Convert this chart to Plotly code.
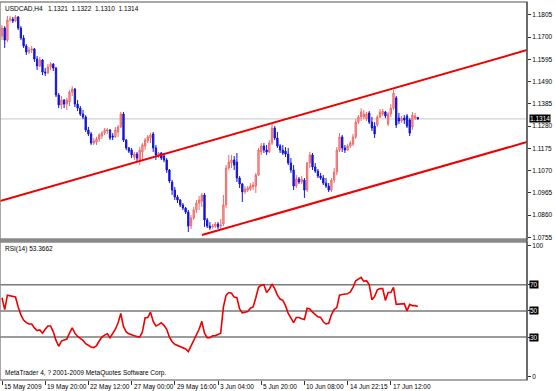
import plotly.graph_objects as go

# ---------------- data ----------------
bar_index = list(range(155))

opens = [1.1705, 1.1743, 1.1686, 1.1781, 1.1785, 1.1776, 1.1795, 1.1743, 1.1696, 1.1658,
         1.1630, 1.1639, 1.1644, 1.1597, 1.1564, 1.1592, 1.1535, 1.1531, 1.1559, 1.1573,
         1.1554, 1.1427, 1.1380, 1.1403, 1.1384, 1.1394, 1.1441, 1.1455, 1.1384, 1.1365,
         1.1337, 1.1323, 1.1262, 1.1243, 1.1200, 1.1205, 1.1219, 1.1233, 1.1247, 1.1257,
         1.1262, 1.1233, 1.1229, 1.1252, 1.1276, 1.1337, 1.1214, 1.1177, 1.1167, 1.1134,
         1.1148, 1.1120, 1.1158, 1.1186, 1.1210, 1.1224, 1.1243, 1.1177, 1.1139, 1.1153,
         1.1139, 1.1120, 1.1073, 1.1016, 1.0978, 1.0945, 1.0931, 1.0908, 1.0893, 1.0874,
         1.0808, 1.0846, 1.0884, 1.0917, 1.0926, 1.0955, 1.0837, 1.0808, 1.0804, 1.0808,
         1.0818, 1.0808, 1.0818, 1.0908, 1.1082, 1.1106, 1.1120, 1.1110, 1.1035, 1.1007,
         1.0969, 1.0978, 1.0983, 1.0993, 1.0997, 1.1049, 1.1158, 1.1186, 1.1167, 1.1158,
         1.1200, 1.1271, 1.1224, 1.1186, 1.1167, 1.1162, 1.1148, 1.1106, 1.1073, 1.0997,
         1.1030, 1.1016, 1.1025, 1.0978, 1.1106, 1.1144, 1.1087, 1.1068, 1.1044, 1.1035,
         1.1011, 1.0997, 1.0978, 1.1025, 1.1063, 1.1167, 1.1229, 1.1177, 1.1167, 1.1186,
         1.1195, 1.1229, 1.1299, 1.1323, 1.1323, 1.1313, 1.1342, 1.1299, 1.1280, 1.1285,
         1.1323, 1.1337, 1.1347, 1.1290, 1.1337, 1.1365, 1.1413, 1.1318, 1.1304, 1.1318,
         1.1328, 1.1309, 1.1276, 1.1318, 1.1321]

highs = [1.1757, 1.1752, 1.1800, 1.1800, 1.1795, 1.1804, 1.1800, 1.1752, 1.1710, 1.1667,
         1.1653, 1.1658, 1.1649, 1.1611, 1.1606, 1.1597, 1.1554, 1.1573, 1.1583, 1.1578,
         1.1559, 1.1436, 1.1422, 1.1408, 1.1413, 1.1450, 1.1469, 1.1460, 1.1403, 1.1375,
         1.1356, 1.1332, 1.1276, 1.1252, 1.1224, 1.1229, 1.1247, 1.1257, 1.1271, 1.1271,
         1.1266, 1.1247, 1.1276, 1.1285, 1.1347, 1.1347, 1.1219, 1.1181, 1.1177, 1.1158,
         1.1158, 1.1181, 1.1200, 1.1224, 1.1238, 1.1247, 1.1252, 1.1191, 1.1158, 1.1158,
         1.1153, 1.1129, 1.1077, 1.1026, 1.0993, 1.0955, 1.0936, 1.0917, 1.0898, 1.0884,
         1.0860, 1.0898, 1.0931, 1.0950, 1.0964, 1.0964, 1.0846, 1.0827, 1.0818, 1.0827,
         1.0827, 1.0841, 1.0955, 1.1096, 1.1144, 1.1144, 1.1139, 1.1153, 1.1044, 1.1011,
         1.0997, 1.0997, 1.1011, 1.1016, 1.1059, 1.1177, 1.1200, 1.1200, 1.1191, 1.1214,
         1.1295, 1.1280, 1.1252, 1.1195, 1.1191, 1.1181, 1.1177, 1.1129, 1.1096, 1.1049,
         1.1040, 1.1044, 1.1035, 1.1111, 1.1158, 1.1153, 1.1106, 1.1077, 1.1059, 1.1049,
         1.1035, 1.1011, 1.1035, 1.1082, 1.1181, 1.1247, 1.1238, 1.1191, 1.1195, 1.1210,
         1.1243, 1.1313, 1.1332, 1.1365, 1.1356, 1.1347, 1.1351, 1.1323, 1.1299, 1.1332,
         1.1361, 1.1361, 1.1351, 1.1347, 1.1384, 1.1450, 1.1422, 1.1342, 1.1328, 1.1332,
         1.1337, 1.1318, 1.1347, 1.1342, 1.1322]

lows = [1.1686, 1.1649, 1.1677, 1.1771, 1.1767, 1.1771, 1.1734, 1.1686, 1.1649, 1.1616,
        1.1620, 1.1625, 1.1583, 1.1545, 1.1559, 1.1521, 1.1516, 1.1526, 1.1545, 1.1540,
        1.1417, 1.1365, 1.1361, 1.1365, 1.1356, 1.1375, 1.1422, 1.1370, 1.1351, 1.1328,
        1.1313, 1.1252, 1.1233, 1.1191, 1.1191, 1.1191, 1.1205, 1.1219, 1.1238, 1.1243,
        1.1214, 1.1214, 1.1224, 1.1229, 1.1271, 1.1205, 1.1167, 1.1153, 1.1129, 1.1120,
        1.1110, 1.1096, 1.1120, 1.1167, 1.1200, 1.1200, 1.1158, 1.1120, 1.1129, 1.1120,
        1.1110, 1.1059, 1.1011, 1.0955, 1.0931, 1.0917, 1.0898, 1.0884, 1.0865, 1.0780,
        1.0794, 1.0837, 1.0870, 1.0884, 1.0898, 1.0804, 1.0799, 1.0790, 1.0794, 1.0799,
        1.0794, 1.0794, 1.0808, 1.0893, 1.1073, 1.1082, 1.1073, 1.1016, 1.0988, 1.0922,
        1.0959, 1.0969, 1.0974, 1.0978, 1.0964, 1.1044, 1.1144, 1.1153, 1.1144, 1.1153,
        1.1191, 1.1214, 1.1177, 1.1153, 1.1144, 1.1134, 1.1096, 1.1059, 1.0978, 1.0988,
        1.1007, 1.1007, 1.0941, 1.0969, 1.1082, 1.1073, 1.1059, 1.1035, 1.1026, 1.1002,
        1.0988, 1.0969, 1.0969, 1.1011, 1.1049, 1.1158, 1.1158, 1.1153, 1.1162, 1.1177,
        1.1186, 1.1219, 1.1290, 1.1304, 1.1313, 1.1304, 1.1290, 1.1257, 1.1224, 1.1276,
        1.1318, 1.1328, 1.1318, 1.1280, 1.1323, 1.1356, 1.1271, 1.1290, 1.1295, 1.1290,
        1.1271, 1.1233, 1.1262, 1.1309, 1.1310]

closes = [1.1743, 1.1686, 1.1781, 1.1785, 1.1776, 1.1795, 1.1743, 1.1696, 1.1658, 1.1630,
          1.1639, 1.1644, 1.1597, 1.1564, 1.1592, 1.1535, 1.1531, 1.1559, 1.1573, 1.1554,
          1.1427, 1.1380, 1.1403, 1.1384, 1.1403, 1.1441, 1.1455, 1.1384, 1.1365, 1.1337,
          1.1323, 1.1262, 1.1243, 1.1200, 1.1210, 1.1219, 1.1238, 1.1247, 1.1262, 1.1262,
          1.1224, 1.1229, 1.1262, 1.1276, 1.1337, 1.1214, 1.1177, 1.1162, 1.1144, 1.1148,
          1.1129, 1.1167, 1.1191, 1.1214, 1.1229, 1.1238, 1.1177, 1.1144, 1.1153, 1.1129,
          1.1120, 1.1073, 1.1021, 1.0978, 1.0945, 1.0931, 1.0908, 1.0893, 1.0874, 1.0808,
          1.0846, 1.0884, 1.0917, 1.0931, 1.0955, 1.0837, 1.0808, 1.0799, 1.0808, 1.0818,
          1.0804, 1.0813, 1.0908, 1.1082, 1.1110, 1.1120, 1.1096, 1.1035, 1.1007, 1.0969,
          1.0983, 1.0988, 1.0997, 1.1002, 1.1049, 1.1167, 1.1186, 1.1167, 1.1158, 1.1200,
          1.1271, 1.1224, 1.1186, 1.1167, 1.1153, 1.1148, 1.1106, 1.1073, 1.0997, 1.1030,
          1.1016, 1.1030, 1.0978, 1.1106, 1.1144, 1.1087, 1.1068, 1.1044, 1.1035, 1.1011,
          1.0997, 1.0978, 1.1025, 1.1063, 1.1167, 1.1229, 1.1177, 1.1167, 1.1186, 1.1200,
          1.1229, 1.1299, 1.1323, 1.1347, 1.1337, 1.1337, 1.1299, 1.1271, 1.1243, 1.1323,
          1.1347, 1.1351, 1.1328, 1.1337, 1.1365, 1.1436, 1.1285, 1.1304, 1.1318, 1.1309,
          1.1280, 1.1247, 1.1332, 1.1328, 1.1314]

rsi_values = [60, 51, 62, 61.5, 61, 60.6, 53, 47, 43, 41,
              40, 40, 37, 35, 35.5, 33, 36, 38.5, 38.5, 34,
              27.5, 23, 27, 28, 28.5, 33, 37, 33, 30.5, 29,
              27.5, 25, 23.5, 22.5, 22, 23.5, 27, 30, 31.5, 32.5,
              29.5, 32.5, 36, 41, 48, 38, 34, 32.5, 31.5, 31,
              30.5, 30, 34, 44.7, 45, 49, 42, 38.5, 39.5, 41,
              39, 36, 30, 26.5, 24.5, 23.5, 23, 22, 21, 19,
              23, 27, 31, 36, 42, 33, 29.5, 29.5, 31, 31,
              32, 33, 53, 62, 64, 63.5, 60.5, 60, 51.5, 48.5,
              49, 49.5, 52, 53, 60, 68, 69.5, 70, 64, 66.5,
              70.5, 67, 62, 59, 58, 54, 48, 44, 41, 45,
              45, 44, 43.5, 52, 51.5, 49, 47, 45.5, 45, 41.7,
              40, 40.5, 47, 51, 52.5, 62, 62.5, 63, 63, 64.4,
              68, 73, 74, 75.5, 72.5, 73, 70, 58.5, 61, 66,
              67, 67, 58, 64, 64, 68, 55, 55, 55, 55.5,
              50, 55, 54, 54, 53.3662]

date_labels = ["15 May 2009", "19 May 20:00", "22 May 12:00", "27 May 00:00", "29 May 16:00",
               "3 Jun 04:00", "5 Jun 20:00", "10 Jun 08:00", "14 Jun 22:15", "17 Jun 12:00"]
date_label_bars = [0, 16, 32, 48, 64, 80, 96, 112, 128, 144]

price_ticks = [1.1805, 1.1700, 1.1595, 1.1490, 1.1385, 1.1280, 1.1175, 1.1070, 1.0965, 1.0860, 1.0755]
rsi_levels = [70, 50, 30]

upper_channel_bars = [-0.74, 194.44]
upper_channel_prices = [1.0926, 1.1639]
lower_channel_bars = [74.07, 194.44]
lower_channel_prices = [1.0766, 1.1205]

last_price = 1.1314
symbol = "USDCAD,H4"
last_ohlc = ["1.1321", "1.1322", "1.1310", "1.1314"]

# ---------------- figure ----------------
FONT = "Liberation Sans, Arial, sans-serif"
FS = 6.5
XR = [-0.741, 194.44]
MAIN_DOM = [0.373, 1.0]
RSI_DOM = [0.0, 0.365]

fig = go.Figure()

fig.add_trace(go.Candlestick(
    x=bar_index, open=opens, high=highs, low=lows, close=closes,
    increasing=dict(line=dict(color="#f06a6a", width=1), fillcolor="#f4a6a6"),
    decreasing=dict(line=dict(color="#1414d8", width=1), fillcolor="#1414d8"),
    whiskerwidth=0, xaxis="x", yaxis="y", showlegend=False, hoverinfo="skip"))

fig.add_trace(go.Scatter(x=upper_channel_bars, y=upper_channel_prices, mode="lines",
                         line=dict(color="#ee0000", width=2), xaxis="x", yaxis="y",
                         showlegend=False, hoverinfo="skip"))
fig.add_trace(go.Scatter(x=lower_channel_bars, y=lower_channel_prices, mode="lines",
                         line=dict(color="#ee0000", width=2), xaxis="x", yaxis="y",
                         showlegend=False, hoverinfo="skip"))

fig.add_trace(go.Scatter(x=bar_index, y=rsi_values, mode="lines",
                         line=dict(color="#ee0000", width=1.6), xaxis="x2", yaxis="y2",
                         showlegend=False, hoverinfo="skip"))

shapes = []
# current price line
shapes.append(dict(type="line", xref="paper", x0=0, x1=1, yref="y", y0=last_price, y1=last_price,
                   line=dict(color="#c4c4c4", width=1), layer="below"))
# RSI levels
for lv in rsi_levels:
    shapes.append(dict(type="line", xref="paper", x0=0, x1=1, yref="y2", y0=lv, y1=lv,
                       line=dict(color="#7a7a7a", width=1.5), layer="below"))
# frames
shapes.append(dict(type="rect", xref="paper", yref="paper", x0=0, x1=1, y0=MAIN_DOM[0], y1=1,
                   line=dict(color="#8a8a8a", width=1.5)))
shapes.append(dict(type="rect", xref="paper", yref="paper", x0=0, x1=1, y0=0, y1=RSI_DOM[1],
                   line=dict(color="#8a8a8a", width=1.5)))
shapes.append(dict(type="rect", xref="paper", yref="paper", x0=0, x1=1, y0=RSI_DOM[1], y1=MAIN_DOM[0],
                   line=dict(width=0), fillcolor="#8a8a8a"))
# right axis line
shapes.append(dict(type="line", xref="paper", yref="paper", x0=1, x1=1, y0=0, y1=1,
                   line=dict(color="#303030", width=1)))

annotations = []
annotations.append(dict(xref="paper", yref="paper", x=0, y=1, xanchor="left", yanchor="top",
                        xshift=3, yshift=-1, showarrow=False,
                        text=symbol + "\u00a0\u00a0\u00a0" + "\u00a0\u00a0".join(last_ohlc),
                        font=dict(family=FONT, size=FS, color="black")))
annotations.append(dict(xref="paper", yref="paper", x=0, y=RSI_DOM[1], xanchor="left", yanchor="top",
                        xshift=3, yshift=-1, showarrow=False,
                        text="RSI(14) " + f"{rsi_values[-1]:.4f}",
                        font=dict(family=FONT, size=FS, color="black")))
annotations.append(dict(xref="paper", yref="paper", x=0, y=0, xanchor="left", yanchor="bottom",
                        xshift=3, yshift=1, showarrow=False,
                        text="MetaTrader 4, ? 2001-2009 MetaQuotes Software Corp.",
                        font=dict(family=FONT, size=FS, color="black")))
for b, lab in zip(date_label_bars, date_labels):
    annotations.append(dict(xref="x2", yref="paper", x=b, y=0, xanchor="left", yanchor="top",
                            xshift=0, yshift=-1, showarrow=False, text=lab,
                            font=dict(family=FONT, size=FS, color="black")))
annotations.append(dict(xref="paper", yref="y", x=1, y=last_price, xanchor="left", yanchor="middle",
                        xshift=2, showarrow=False, text=f"{last_price:.4f}", bgcolor="black",
                        borderpad=0, font=dict(family=FONT, size=FS, color="white")))
for lv in rsi_levels:
    annotations.append(dict(xref="paper", yref="y2", x=1, y=lv, xanchor="left", yanchor="middle",
                            xshift=2, showarrow=False, text=str(lv), bgcolor="black",
                            borderpad=0, font=dict(family=FONT, size=FS, color="white")))

fig.update_layout(
    width=556, height=391,
    margin=dict(l=0, r=29, t=2, b=11),
    paper_bgcolor="white", plot_bgcolor="white",
    showlegend=False,
    shapes=shapes, annotations=annotations,
    xaxis=dict(domain=[0, 1], range=XR, anchor="y", showgrid=False, zeroline=False,
               showticklabels=False, ticks="", rangeslider=dict(visible=False), fixedrange=True),
    yaxis=dict(domain=MAIN_DOM, range=[1.0747, 1.1866], side="right", anchor="x",
               tickvals=price_ticks, ticktext=[f"{v:.4f}" for v in price_ticks],
               ticks="outside", ticklen=3, tickcolor="#303030", showgrid=False, zeroline=False,
               tickfont=dict(family=FONT, size=FS, color="black")),
    xaxis2=dict(domain=[0, 1], range=XR, anchor="y2", showgrid=False, zeroline=False,
                tickvals=date_label_bars, showticklabels=False, ticks="outside", ticklen=4,
                tickcolor="#303030", rangeslider=dict(visible=False)),
    yaxis2=dict(domain=RSI_DOM, range=[-2.7, 102.5], side="right", anchor="x2",
                tickvals=[0, 30, 50, 70, 100], ticktext=["0", "", "", "", "100"],
                ticks="outside", ticklen=3, tickcolor="#303030", showgrid=False, zeroline=False,
                tickfont=dict(family=FONT, size=FS, color="black")),
)

fig.write_html("out.html")
